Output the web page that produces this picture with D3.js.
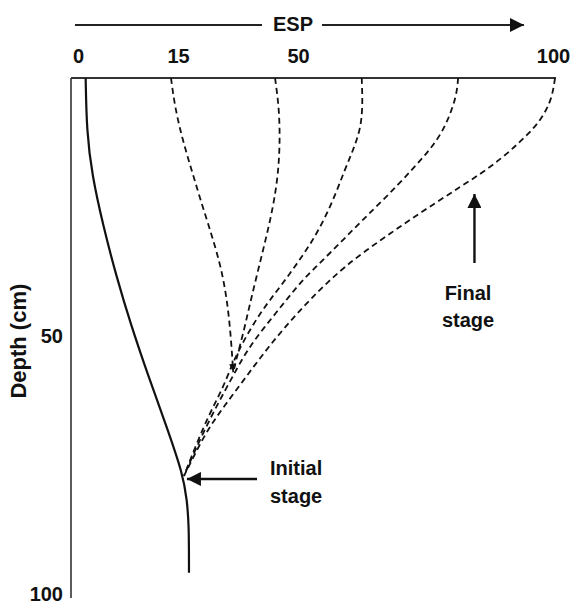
<!DOCTYPE html>
<html>
<head>
<meta charset="utf-8">
<script src="https://cdn.jsdelivr.net/npm/d3@7/dist/d3.min.js"></script>
<style>
  body { margin: 0; background: #fff; }
  svg text { font-family: "Liberation Sans", Arial, sans-serif; font-weight: bold; fill: #111; }
</style>
</head>
<body>
<svg id="chart" width="573" height="605"></svg>
<script>
// tick labels
const espTicks = [0, 15, 50, 100];
const depthTicks = [50, 100];

// initial stage (solid)
const initialDepth = [0, 10.3, 18.8, 28.5, 38.2, 47.9, 57.6, 67.2, 76.9, 81.8, 86.6, 95.9];
const initialEsp = [1.15, 1.3, 2.1, 3.75, 5.7, 7.95, 10.5, 13.2, 16.5, 17.6, 18.2, 18.2];

// intermediate and final stages (dashed)
const stage1Depth = [0, 5.8, 12.4, 18.8, 25.2, 31.8, 38.2, 44.6, 50.8, 57.0];
const stage1Esp = [13.95, 14.55, 16.5, 19.4, 22.3, 25.5, 28.1, 29.6, 30.5, 31.1];

const stage2Depth = [0, 5.8, 12.4, 18.8, 25.2, 31.8, 38.2, 44.6, 50.4, 54.7, 56.6];
const stage2Esp = [43.3, 44.5, 44.75, 44.2, 42.7, 40.4, 38.0, 35.7, 33.7, 31.9, 31.3];

const stage3Depth = [0, 5.8, 10.1, 14.0, 18.2, 22.7, 27.5, 31.8, 35.7, 39.5, 43.0, 46.3, 49.8, 53.1, 55.6, 60.5, 64.9, 70.7, 77.1];
const stage3Esp = [62.5, 62.7, 62.2, 60.8, 59.0, 57.3, 55.1, 52.7, 50.0, 45.9, 41.8, 38.3, 35.1, 32.5, 30.75, 27.8, 24.3, 20.5, 16.75];

const stage4Depth = [0, 3.3, 7.2, 11.0, 14.3, 17.4, 20.7, 24.2, 27.5, 30.8, 33.9, 36.8, 39.5, 42.6, 45.5, 48.4, 51.2, 54.1, 58.1, 63.0, 68.8, 74.4, 77.1];
const stage4Esp = [81.4, 81.1, 79.8, 78.0, 75.5, 72.7, 69.6, 66.1, 62.7, 59.4, 56.3, 53.3, 50.6, 47.1, 43.6, 40.1, 36.9, 34.0, 30.75, 26.7, 22.3, 18.5, 16.75];

const stage5Depth = [0, 3.9, 7.2, 9.9, 12.6, 15.5, 18.4, 21.1, 24.0, 27.1, 30.2, 33.3, 36.4, 39.5, 42.6, 45.7, 49.0, 52.3, 55.8, 59.5, 63.4, 67.2, 71.3, 75.2, 77.1];
const stage5Esp = [100.4, 99.8, 98.2, 96.1, 93.3, 90.0, 86.1, 81.8, 77.3, 72.5, 68.0, 63.5, 59.4, 55.9, 52.7, 49.7, 45.3, 41.25, 37.2, 33.1, 28.7, 24.6, 21.1, 18.2, 16.75];

const svg = d3.select("#chart");
const plotLeft = 71, plotTop = 78, plotRight = 556, plotBottom = 598;

// the ESP axis of the original is not linear, so a piecewise scale
const x = d3.scaleLinear().domain(espTicks).range([78, 178, 298, 553]);
const y = d3.scaleLinear().domain([0, 100]).range([plotTop, 594]);

const defs = svg.append("defs");
function addArrow(id, w, h) {
    defs.append("marker")
        .attr("id", id)
        .attr("viewBox", `0 0 ${w} ${h}`)
        .attr("refX", w).attr("refY", h / 2)
        .attr("markerWidth", w).attr("markerHeight", h)
        .attr("markerUnits", "userSpaceOnUse")
        .attr("orient", "auto")
        .append("path")
        .attr("d", `M0,0 L${w},${h / 2} L0,${h} Z`)
        .attr("fill", "#111");
}
addArrow("bigArrow", 14, 14);
addArrow("smallArrow", 8, 7);

// frame lines
svg.append("line")
    .attr("x1", plotLeft).attr("x2", plotRight)
    .attr("y1", plotTop).attr("y2", plotTop)
    .attr("stroke", "#333").attr("stroke-width", 2.2);
svg.append("line")
    .attr("x1", plotLeft).attr("x2", plotLeft)
    .attr("y1", plotTop).attr("y2", plotBottom)
    .attr("stroke", "#333").attr("stroke-width", 1.6);

// tick labels
const topAxis = svg.append("g")
    .attr("transform", `translate(0,${plotTop})`)
    .call(d3.axisTop(x).tickValues(espTicks).tickSize(0).tickPadding(15));
const leftAxis = svg.append("g")
    .attr("transform", `translate(${plotLeft},0)`)
    .call(d3.axisLeft(y).tickValues(depthTicks).tickSize(0).tickPadding(8));
[topAxis, leftAxis].forEach(g => {
    g.select(".domain").remove();
    g.attr("font-family", null).attr("font-size", null);
    g.selectAll("text")
        .attr("font-size", 20)
        .attr("fill", "#111");
});

// ESP title with arrow
svg.append("line")
    .attr("x1", 75).attr("x2", 262).attr("y1", 25).attr("y2", 25)
    .attr("stroke", "#222").attr("stroke-width", 2);
svg.append("line")
    .attr("x1", 322).attr("x2", 524).attr("y1", 25).attr("y2", 25)
    .attr("stroke", "#222").attr("stroke-width", 2)
    .attr("marker-end", "url(#bigArrow)");
svg.append("text")
    .attr("x", 293).attr("y", 31)
    .attr("text-anchor", "middle")
    .attr("font-size", 20)
    .text("ESP");

// depth title
svg.append("text")
    .attr("transform", `translate(26,${y(51)}) rotate(-90)`)
    .attr("text-anchor", "middle")
    .attr("font-size", 22)
    .text("Depth (cm)");

// curves
const line = d3.line()
    .x(d => x(d[0]))
    .y(d => y(d[1]))
    .curve(d3.curveBasis);

const dashed = [
    [stage1Esp, stage1Depth, true],
    [stage2Esp, stage2Depth, false],
    [stage3Esp, stage3Depth, false],
    [stage4Esp, stage4Depth, false],
    [stage5Esp, stage5Depth, false]
];
dashed.forEach(([esp, depth, arrow]) => {
    const path = svg.append("path")
        .datum(d3.zip(esp, depth))
        .attr("d", line)
        .attr("fill", "none")
        .attr("stroke", "#111")
        .attr("stroke-width", 1.8)
        .attr("stroke-dasharray", "6,4");
    if (arrow) path.attr("marker-end", "url(#smallArrow)");
});

svg.append("path")
    .datum(d3.zip(initialEsp, initialDepth))
    .attr("d", line)
    .attr("fill", "none")
    .attr("stroke", "#111")
    .attr("stroke-width", 2.2);

// annotations
svg.append("line")
    .attr("x1", 257).attr("x2", x(17.6))
    .attr("y1", y(77.7)).attr("y2", y(77.7))
    .attr("stroke", "#111").attr("stroke-width", 2.4)
    .attr("marker-end", "url(#bigArrow)");
svg.append("text")
    .attr("x", 270).attr("y", 475)
    .attr("font-size", 20)
    .selectAll("tspan")
    .data(["Initial", "stage"])
    .join("tspan")
    .attr("x", 270)
    .attr("dy", (d, i) => i ? 28 : 0)
    .text(d => d);

svg.append("line")
    .attr("x1", x(84.6)).attr("x2", x(84.6))
    .attr("y1", 263).attr("y2", 194)
    .attr("stroke", "#111").attr("stroke-width", 2.4)
    .attr("marker-end", "url(#bigArrow)");
svg.append("text")
    .attr("x", 467).attr("y", 300)
    .attr("text-anchor", "middle")
    .attr("font-size", 20)
    .selectAll("tspan")
    .data(["Final", "stage"])
    .join("tspan")
    .attr("x", 468)
    .attr("dy", (d, i) => i ? 27 : 0)
    .text(d => d);
</script>
</body>
</html>
